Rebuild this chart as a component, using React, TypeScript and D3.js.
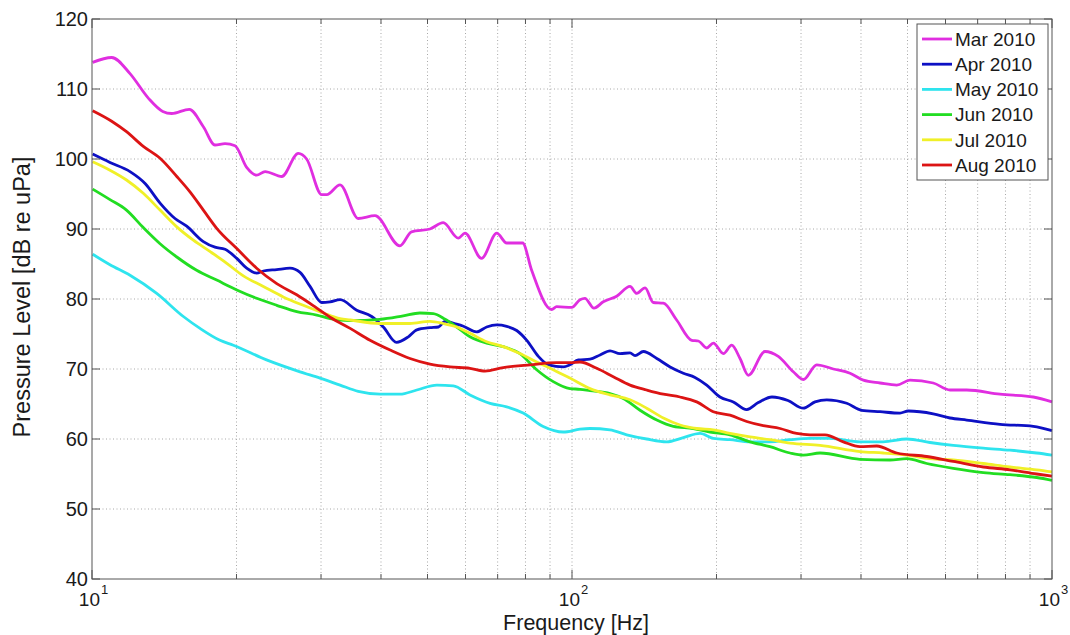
import React from "react";
import * as d3 from "d3";

const seriesNames = ["Mar 2010", "Apr 2010", "May 2010", "Jun 2010", "Jul 2010", "Aug 2010"];
const seriesColors = ["#e02ee0", "#0d10c4", "#2ee4ee", "#22dd22", "#f0f028", "#dc1414"];

const marFreq = [10.03, 10.99, 12.0, 13.1, 14.04, 14.66, 15.95, 17.06, 18.04, 18.93, 19.86, 21.0, 22.03, 22.94, 24.85, 26.9, 28.0, 30.1, 30.83, 32.87, 35.87, 38.86, 43.8, 46.3, 50.6, 53.9, 57.98, 59.85, 64.8, 69.7, 73.1, 78.9, 82.4, 90.7, 92.9, 99.9, 103.9, 106.4, 111.1, 116.2, 123.9, 132.1, 136.4, 142.0, 147.7, 155.0, 165.2, 177.6, 183.3, 190.8, 197.0, 206.7, 215.1, 223.9, 233.0, 252.4, 269.0, 289.1, 303.3, 323.5, 350.3, 379.5, 404.6, 438.3, 474.9, 506.0, 565.7, 613.1, 664.3, 779.3, 914.2, 1000];
const marLevel = [113.8, 114.5, 112.2, 108.7, 106.8, 106.5, 107.1, 104.6, 102.0, 102.2, 101.9, 98.8, 97.7, 98.2, 97.5, 100.8, 100.0, 94.9, 94.9, 96.3, 91.5, 91.9, 87.6, 89.6, 90.0, 90.9, 88.7, 89.4, 85.8, 89.4, 88.0, 88.0, 84.1, 78.5, 78.9, 78.8, 79.9, 80.1, 78.7, 79.6, 80.4, 81.8, 80.8, 81.6, 79.5, 79.4, 77.0, 74.1, 74.0, 73.0, 73.7, 72.2, 73.4, 71.5, 69.1, 72.5, 71.8, 69.6, 68.5, 70.6, 70.0, 69.4, 68.4, 68.0, 67.7, 68.4, 68.0, 67.0, 67.0, 66.4, 66.0, 65.3];

const aprFreq = [10.03, 10.9, 12.0, 12.9, 13.86, 14.89, 15.75, 17.06, 18.04, 18.93, 20.03, 21.0, 22.03, 22.75, 24.26, 25.85, 27.13, 28.46, 30.1, 31.33, 32.87, 35.6, 38.25, 40.45, 43.1, 45.6, 47.5, 50.6, 52.7, 54.4, 57.5, 59.4, 63.3, 66.4, 69.7, 73.1, 76.7, 80.5, 85.1, 89.3, 95.9, 99.0, 103.1, 109.0, 114.4, 120.0, 125.9, 132.1, 135.3, 140.8, 150.2, 160.1, 170.6, 180.4, 190.8, 203.4, 216.8, 231.2, 244.4, 261.0, 281.8, 303.3, 320.9, 339.4, 373.5, 401.3, 438.3, 482.4, 501.9, 565.7, 613.1, 664.3, 779.3, 914.2, 1000];
const aprLevel = [100.7, 99.5, 98.2, 96.5, 93.7, 91.5, 90.4, 88.2, 87.4, 87.1, 85.8, 84.4, 83.7, 84.0, 84.2, 84.4, 83.8, 81.8, 79.5, 79.6, 79.9, 78.4, 77.5, 76.0, 73.8, 74.6, 75.6, 75.9, 76.0, 76.8, 76.4, 76.1, 75.3, 76.0, 76.3, 76.1, 75.5, 74.1, 71.8, 70.6, 70.3, 70.6, 71.3, 71.4, 72.0, 72.6, 72.2, 72.3, 71.9, 72.5, 71.5, 70.3, 69.4, 68.8, 67.7, 66.0, 65.3, 64.2, 65.2, 66.0, 65.5, 64.4, 65.3, 65.6, 65.1, 64.1, 63.9, 63.7, 64.0, 63.6, 63.0, 62.7, 62.1, 61.8, 61.2];

const mayFreq = [10.03, 10.9, 12.0, 13.64, 15.5, 16.79, 18.48, 19.7, 23.1, 27.13, 29.85, 32.87, 35.87, 39.8, 43.8, 47.5, 52.3, 56.6, 61.3, 67.5, 73.1, 79.1, 87.1, 95.9, 103.9, 109.0, 120.0, 130.0, 143.1, 157.5, 170.6, 184.8, 197.0, 213.4, 234.9, 258.5, 284.6, 313.3, 344.7, 398.1, 445.1, 498.2, 557.0, 622.9, 719.4, 817.6, 929.1, 1000];
const mayLevel = [86.4, 84.9, 83.4, 80.8, 77.5, 75.8, 74.1, 73.4, 71.3, 69.6, 68.7, 67.7, 66.8, 66.4, 66.4, 67.0, 67.7, 67.6, 66.3, 65.1, 64.6, 63.7, 61.8, 61.0, 61.4, 61.5, 61.3, 60.6, 60.0, 59.6, 60.2, 60.8, 60.1, 59.9, 59.6, 59.6, 59.9, 60.1, 60.1, 59.6, 59.6, 60.0, 59.5, 59.1, 58.7, 58.4, 58.0, 57.7];

const junFreq = [10.03, 10.9, 11.8, 12.79, 13.86, 15.02, 16.52, 18.19, 20.03, 22.03, 24.26, 26.7, 29.4, 31.33, 34.5, 39.8, 44.5, 48.2, 51.4, 54.4, 57.5, 61.3, 66.4, 71.9, 77.9, 84.4, 91.4, 99.0, 103.9, 109.0, 120.0, 127.9, 138.6, 150.2, 162.6, 178.9, 193.9, 213.4, 234.9, 258.5, 284.6, 303.3, 328.7, 398.1, 459.7, 498.2, 548.3, 622.9, 719.4, 817.6, 929.1, 1000];
const junLevel = [95.7, 94.2, 92.7, 90.2, 87.9, 86.0, 84.1, 82.7, 81.3, 80.1, 79.1, 78.2, 77.7, 77.2, 76.9, 77.1, 77.6, 78.0, 77.9, 77.1, 76.0, 74.6, 73.7, 73.2, 72.2, 69.9, 68.2, 67.2, 67.1, 66.9, 66.5, 65.8, 64.1, 62.7, 61.8, 61.5, 61.0, 60.6, 59.6, 58.9, 58.0, 57.7, 58.0, 57.1, 57.0, 57.2, 56.5, 55.8, 55.2, 54.9, 54.5, 54.1];

const julFreq = [10.03, 10.9, 11.8, 12.79, 13.86, 15.02, 16.26, 17.6, 19.09, 20.67, 22.75, 25.03, 27.55, 30.33, 32.87, 34.5, 39.8, 45.97, 50.6, 53.9, 57.5, 61.3, 66.4, 71.9, 77.9, 84.4, 91.4, 99.0, 109.0, 120.0, 132.1, 143.1, 155.0, 167.9, 181.9, 197.0, 213.4, 234.9, 258.5, 284.6, 328.7, 398.1, 445.1, 498.2, 557.0, 622.9, 719.4, 817.6, 929.1, 1000];
const julLevel = [99.6, 98.4, 97.0, 95.1, 92.7, 90.3, 88.4, 86.8, 85.1, 83.3, 81.8, 80.3, 79.1, 78.0, 77.2, 77.0, 76.5, 76.5, 76.8, 76.5, 76.0, 75.1, 73.9, 73.2, 72.2, 71.0, 69.9, 68.7, 67.2, 66.3, 65.6, 64.4, 63.0, 62.0, 61.5, 61.3, 60.8, 60.3, 59.9, 59.4, 59.1, 58.2, 58.0, 57.7, 57.2, 57.0, 56.5, 56.0, 55.6, 55.3];

const augFreq = [10.03, 10.99, 11.8, 12.79, 13.86, 15.02, 16.0, 17.06, 18.19, 20.03, 22.03, 24.26, 26.7, 29.4, 31.33, 34.5, 37.95, 41.8, 45.97, 50.6, 55.7, 61.3, 65.9, 71.9, 81.8, 92.9, 99.0, 103.9, 112.6, 121.9, 132.1, 143.1, 155.0, 167.9, 181.9, 197.0, 213.4, 231.2, 250.3, 271.3, 293.8, 313.3, 336.6, 367.5, 398.1, 431.4, 474.9, 548.3, 622.9, 719.4, 817.6, 929.1, 1000];
const augLevel = [106.9, 105.4, 103.9, 101.8, 100.1, 97.5, 95.3, 92.7, 90.1, 87.2, 84.4, 82.2, 80.6, 78.7, 77.4, 75.8, 74.1, 72.7, 71.5, 70.7, 70.3, 70.1, 69.7, 70.2, 70.6, 70.9, 70.9, 71.0, 70.1, 68.9, 67.7, 67.0, 66.4, 66.0, 65.3, 63.9, 63.4, 62.5, 61.9, 61.5, 60.8, 60.6, 60.6, 59.6, 58.9, 59.0, 58.0, 57.5, 56.8, 56.0, 55.6, 55.0, 54.7];

const yTicks = [40, 50, 60, 70, 80, 90, 100, 110, 120];
const xMajor = [10, 100, 1000];
const xExponents = ["1", "2", "3"];
const xMinor = [20, 30, 40, 50, 60, 70, 80, 90, 200, 300, 400, 500, 600, 700, 800, 900];

const freqs = [marFreq, aprFreq, mayFreq, junFreq, julFreq, augFreq];
const levels = [marLevel, aprLevel, mayLevel, junLevel, julLevel, augLevel];

const W = 1070, H = 635;
const L = 92, R = 1052, T = 19, B = 579;
const FONT = "'Liberation Sans', Arial, Helvetica, sans-serif";

export default function App() {
  const x = d3.scaleLog().domain([10, 1000]).range([L, R]);
  const y = d3.scaleLinear().domain([40, 120]).range([B, T]);
  const line = d3.line<[number, number]>().x(d => x(d[0])).y(d => y(d[1])).curve(d3.curveMonotoneX);
  const axisColor = "#555";
  const gridColor = "#a8a8a8";
  const textColor = "#1a1a1a";

  return (
    <svg width={W} height={H} style={{ position: "absolute", left: 0, top: 0, background: "#fff" }} fontFamily={FONT}>
      <rect x={0} y={0} width={W} height={H} fill="#fff" />
      {/* grid */}
      {yTicks.slice(1, -1).map(v => (
        <line key={"gy" + v} x1={L} x2={R} y1={y(v)} y2={y(v)} stroke={gridColor} strokeWidth={1} strokeDasharray="1,2.5" />
      ))}
      {[...xMinor, 100].map(v => (
        <line key={"gx" + v} x1={x(v)} x2={x(v)} y1={T} y2={B} stroke={gridColor} strokeWidth={1} strokeDasharray="1,2.5" />
      ))}
      {/* series */}
      {freqs.map((fs, i) => (
        <path key={seriesNames[i]} d={line(fs.map((f, j) => [f, levels[i][j]] as [number, number])) || ""}
          fill="none" stroke={seriesColors[i]} strokeWidth={2.8} strokeLinejoin="round" />
      ))}
      {/* axes box */}
      <rect x={L} y={T} width={R - L} height={B - T} fill="none" stroke={axisColor} strokeWidth={1} />
      {yTicks.map(v => (
        <g key={"ty" + v}>
          <line x1={L} x2={L + 8} y1={y(v)} y2={y(v)} stroke={axisColor} />
          <line x1={R} x2={R - 8} y1={y(v)} y2={y(v)} stroke={axisColor} />
          <text x={L - 4} y={y(v)} dy="0.36em" textAnchor="end" fontSize={20} fill={textColor}>{v}</text>
        </g>
      ))}
      {xMinor.map(v => (
        <g key={"tm" + v}>
          <line x1={x(v)} x2={x(v)} y1={B} y2={B - 5} stroke={axisColor} />
          <line x1={x(v)} x2={x(v)} y1={T} y2={T + 5} stroke={axisColor} />
        </g>
      ))}
      {xMajor.map((v, i) => (
        <g key={"tx" + v}>
          <line x1={x(v)} x2={x(v)} y1={B} y2={B - 9} stroke={axisColor} />
          <line x1={x(v)} x2={x(v)} y1={T} y2={T + 9} stroke={axisColor} />
          <text x={x(v) + 8} y={606} textAnchor="end" fontSize={19} fill={textColor}>10</text>
          <text x={x(v) + 9} y={594} textAnchor="start" fontSize={13} fill={textColor}>{xExponents[i]}</text>
        </g>
      ))}
      {/* axis labels */}
      <text x={(L + R) / 2 + 4} y={630} textAnchor="middle" fontSize={21.5} fill={textColor}>Frequency [Hz]</text>
      <text transform={`translate(30,${(T + B) / 2 - 2}) rotate(-90)`} textAnchor="middle" fontSize={23.5} fill={textColor}>Pressure Level [dB re uPa]</text>
      {/* legend */}
      <rect x={917} y={24} width={131} height={156} fill="#fff" stroke={axisColor} strokeWidth={1} />
      {seriesNames.map((n, i) => {
        const ly = 39 + i * 25.2;
        return (
          <g key={"lg" + n}>
            <line x1={922} x2={952} y1={ly} y2={ly} stroke={seriesColors[i]} strokeWidth={2.8} />
            <text x={955} y={ly} dy="0.36em" fontSize={19} fill={textColor}>{n}</text>
          </g>
        );
      })}
    </svg>
  );
}
